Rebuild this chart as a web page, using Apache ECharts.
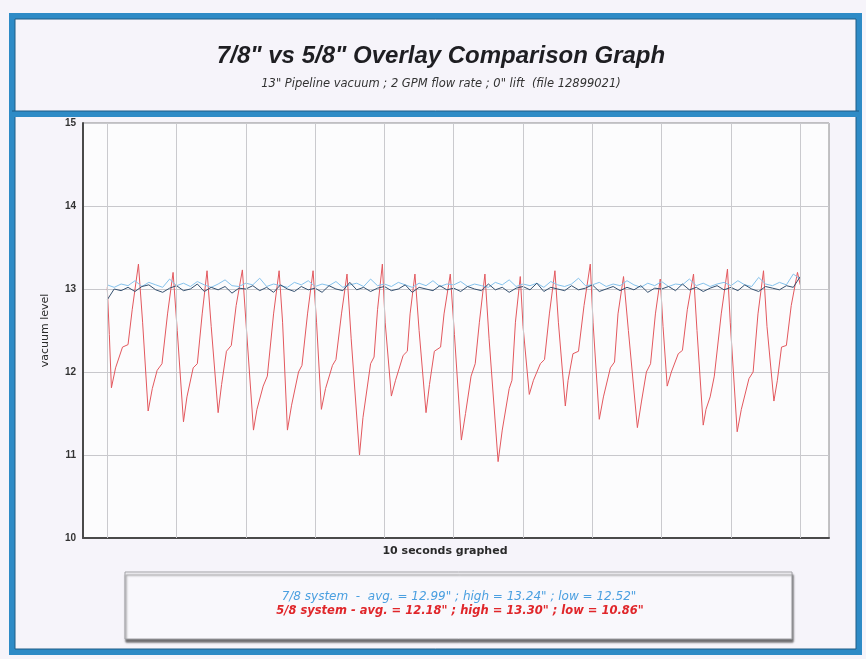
<!DOCTYPE html>
<html>
<head>
<meta charset="utf-8">
<title>7/8 vs 5/8 Overlay Comparison Graph</title>
<script src="https://cdn.jsdelivr.net/npm/echarts@6/dist/echarts.min.js"></script>
<style>
  html, body { margin: 0; padding: 0; background: #f6f4fa; }
  #chart { width: 866px; height: 659px; }
</style>
</head>
<body>
<div id="chart"></div>
<script>
// 5/8 system trace (seconds, vacuum level)
const redTime = [
  0.00, 0.03,
  0.06, 0.12, 0.22, 0.30, 0.36, 0.45, 0.51,
  0.59, 0.65, 0.72, 0.79, 0.87, 0.95, 1.01,
  1.10, 1.15, 1.24, 1.30, 1.37, 1.44, 1.50,
  1.60, 1.65, 1.72, 1.79, 1.86, 1.95, 2.01,
  2.11, 2.16, 2.25, 2.31, 2.40, 2.48, 2.53,
  2.60, 2.66, 2.76, 2.81, 2.89, 2.97, 3.02,
  3.09, 3.15, 3.25, 3.30, 3.38, 3.46, 3.52,
  3.64, 3.69, 3.80, 3.85, 3.90, 3.97, 4.01,
  4.10, 4.16, 4.27, 4.33, 4.37, 4.44, 4.50,
  4.60, 4.65, 4.72, 4.81, 4.86, 4.95, 5.01,
  5.11, 5.17, 5.25, 5.31, 5.37, 5.45, 5.51,
  5.64, 5.70, 5.80, 5.84, 5.89, 5.96, 6.00,
  6.09, 6.15, 6.25, 6.31, 6.38, 6.46, 6.51,
  6.61, 6.65, 6.72, 6.80, 6.88, 6.97, 7.01,
  7.10, 7.16, 7.26, 7.32, 7.37, 7.45, 7.52,
  7.65, 7.71, 7.78, 7.84, 7.91, 7.98, 8.02,
  8.08, 8.14, 8.24, 8.30, 8.37, 8.46, 8.51,
  8.60, 8.64, 8.70, 8.76, 8.86, 8.95, 8.99,
  9.09, 9.15, 9.26, 9.32, 9.39, 9.47, 9.52,
  9.62, 9.67, 9.73, 9.80, 9.87, 9.96, 10.00
];
const redVals = [
  13.02, 12.45,
  11.81, 12.05, 12.30, 12.33, 12.75, 13.30, 12.60,
  11.53, 11.80, 12.02, 12.10, 12.70, 13.20, 12.50,
  11.40, 11.70, 12.05, 12.10, 12.70, 13.22, 12.55,
  11.51, 11.85, 12.25, 12.32, 12.80, 13.23, 12.50,
  11.30, 11.55, 11.83, 11.95, 12.70, 13.22, 12.60,
  11.30, 11.60, 12.00, 12.08, 12.70, 13.22, 12.60,
  11.55, 11.80, 12.08, 12.15, 12.70, 13.18, 12.40,
  11.00, 11.45, 12.10, 12.18, 12.75, 13.30, 12.60,
  11.71, 11.90, 12.20, 12.25, 12.70, 13.18, 12.50,
  11.51, 11.85, 12.25, 12.30, 12.70, 13.18, 12.45,
  11.18, 11.50, 11.95, 12.10, 12.60, 13.18, 12.40,
  10.92, 11.30, 11.80, 11.90, 12.60, 13.15, 12.55,
  11.73, 11.90, 12.10, 12.15, 12.70, 13.22, 12.60,
  11.59, 11.90, 12.22, 12.25, 12.80, 13.30, 12.60,
  11.43, 11.70, 12.05, 12.12, 12.70, 13.15, 12.50,
  11.33, 11.65, 12.00, 12.10, 12.70, 13.12, 12.55,
  11.83, 12.00, 12.22, 12.26, 12.75, 13.18, 12.50,
  11.36, 11.55, 11.70, 11.95, 12.70, 13.24, 12.60,
  11.28, 11.55, 11.92, 12.00, 12.70, 13.22, 12.55,
  11.65, 11.90, 12.30, 12.32, 12.80, 13.20, 13.05
];

// 7/8 system traces, one reading every sampleStep seconds
const sampleStep = 0.1;
const blueLight = [
  13.05, 13.02, 13.06, 13.04, 13.10, 13.03, 13.08, 13.05, 13.02, 13.12,
  13.04, 13.07, 13.03, 13.09, 13.05, 13.02, 13.06, 13.11, 13.04, 13.03,
  13.07, 13.05, 13.13, 13.03, 13.06, 13.04, 13.02, 13.08, 13.05, 13.10,
  13.03, 13.06, 13.04, 13.09, 13.02, 13.05, 13.07, 13.03, 13.12, 13.04,
  13.06, 13.03, 13.08, 13.05, 13.02, 13.07, 13.04, 13.10, 13.03, 13.06,
  13.05, 13.09, 13.03, 13.06, 13.04, 13.02, 13.08, 13.05, 13.11, 13.03,
  13.06, 13.04, 13.07, 13.02, 13.09, 13.05, 13.03, 13.06, 13.13, 13.04,
  13.05, 13.08, 13.03, 13.06, 13.04, 13.10, 13.05, 13.02, 13.07, 13.04,
  13.09, 13.03, 13.06, 13.05, 13.12, 13.04, 13.07, 13.03, 13.06, 13.08,
  13.04, 13.10, 13.05, 13.03, 13.14, 13.06, 13.04, 13.08, 13.05, 13.18, 13.12
];
const blueDark = [
  12.87, 13.00, 12.98, 13.02, 12.97, 13.03, 13.05, 12.99, 12.96, 13.01,
  13.04, 12.98, 13.00, 13.06, 12.97, 13.02, 12.99, 13.03, 12.95, 13.01,
  13.00, 13.04, 12.98, 13.02, 12.96, 13.05, 13.00, 12.97, 13.03, 12.99,
  13.01, 12.96, 13.04, 13.00, 12.98, 13.08, 12.99, 13.02, 12.97, 13.01,
  13.03, 12.98, 13.00, 13.05, 12.96, 13.02, 13.00, 12.98, 13.04, 12.99,
  13.01, 12.97, 13.03, 13.00, 12.98, 13.06, 12.99, 13.02, 12.96, 13.01,
  13.03, 12.99, 13.07, 12.97, 13.02, 13.00, 12.98, 13.04, 12.99, 13.01,
  13.05, 12.97, 13.00, 13.03, 12.98, 13.02, 12.99, 13.04, 12.96, 13.01,
  13.00, 13.03, 12.98, 13.06, 12.99, 13.02, 12.97, 13.01, 13.04, 12.99,
  13.02, 12.98, 13.05, 13.00, 12.97, 13.03, 13.01, 12.99, 13.04, 13.02, 13.15
];

// one vertical grid line per second
const secondLines = [0, 1, 2, 3, 4, 5, 6, 7, 8, 9, 10];
const yMin = 10, yMax = 15, yStep = 1;

const titleText = '7/8" vs 5/8" Overlay Comparison Graph';
const subText = '13" Pipeline vacuum ; 2 GPM flow rate ; 0" lift  (file 12899021)';
const legend78 = '7/8 system  -  avg. = 12.99" ; high = 13.24" ; low = 12.52"';
const legend58 = '5/8 system - avg. = 12.18" ; high = 13.30" ; low = 10.86"';

const FONT = '"Liberation Sans", Arial, sans-serif';
const WIDE = '"DejaVu Sans", Verdana, sans-serif';
const chart = echarts.init(document.getElementById('chart'));

chart.setOption({
  backgroundColor: '#f6f4fa',
  animation: false,
  title: [
    {
      text: titleText,
      left: 436, top: 39, textAlign: 'center',
      textStyle: { fontFamily: FONT, fontSize: 24, fontWeight: 'bold', fontStyle: 'italic', color: '#1e1e22' }
    },
    {
      text: subText,
      left: 436, top: 73, textAlign: 'center',
      textStyle: { fontFamily: WIDE, fontSize: 11.5, fontWeight: 'normal', fontStyle: 'italic', color: '#333' }
    }
  ],
  graphic: [
    // outer frame and divider
    { type: 'rect', z: 0, shape: { x: 12, y: 16, width: 847, height: 636 },
      style: { fill: 'none', stroke: '#2e8bc6', lineWidth: 6 } },
    { type: 'rect', z: 0, shape: { x: 15, y: 19, width: 841, height: 630 },
      style: { fill: 'none', stroke: '#1f5c86', lineWidth: 1 } },
    { type: 'line', z: 0, shape: { x1: 12, y1: 114, x2: 859, y2: 114 },
      style: { stroke: '#2e8bc6', lineWidth: 6 } },
    { type: 'line', z: 0, shape: { x1: 12, y1: 111, x2: 859, y2: 111 },
      style: { stroke: '#1f5c86', lineWidth: 1 } },
    // legend box
    { type: 'rect', z: 0, shape: { x: 125, y: 572, width: 667, height: 67 },
      style: { fill: '#f9f8fc', stroke: '#a0a0a4', lineWidth: 1,
               shadowColor: 'rgba(0,0,0,0.55)', shadowOffsetX: 1, shadowOffsetY: 3, shadowBlur: 2 } },
    { type: 'text', z: 1, style: {
        text: legend78, x: 459, y: 597, align: 'center', verticalAlign: 'middle',
        font: 'italic 12px ' + WIDE, fill: '#4a9fe0' } },
    { type: 'text', z: 1, style: {
        text: legend58, x: 460, y: 611, align: 'center', verticalAlign: 'middle',
        font: 'italic bold 11.5px ' + WIDE, fill: '#e0262a' } },
    // x axis caption
    { type: 'text', z: 1, style: {
        text: '10 seconds graphed', x: 445, y: 551, align: 'center', verticalAlign: 'middle',
        font: 'bold 11px ' + WIDE, fill: '#2a2a2a' } }
  ],
  grid: {
    left: 83, right: 37, top: 123, bottom: 121,
    show: true, backgroundColor: '#fcfcfd', borderColor: '#8a8a8a', borderWidth: 1
  },
  xAxis: {
    type: 'value', min: -0.35, max: 10.415,
    axisLine: { show: true, onZero: false, lineStyle: { color: '#4a4a4a', width: 2 } },
    axisTick: { show: false }, axisLabel: { show: false }, splitLine: { show: false }
  },
  yAxis: {
    type: 'value', min: yMin, max: yMax, interval: yStep,
    name: 'vacuum level', nameLocation: 'middle', nameGap: 32, nameRotate: 90,
    nameTextStyle: { fontFamily: WIDE, fontSize: 11, fontWeight: 'normal', color: '#2a2a2a' },
    axisLine: { show: true, onZero: false, lineStyle: { color: '#4a4a4a', width: 2 } },
    axisTick: { show: false },
    axisLabel: { margin: 7, fontFamily: FONT, fontSize: 10, fontWeight: 'bold', color: '#333' },
    splitLine: { show: true, lineStyle: { color: '#c8c8cc', width: 1 } }
  },
  series: [
    {
      name: 'seconds', type: 'line', data: [], z: 1, silent: true,
      markLine: {
        silent: true, symbol: 'none', label: { show: false },
        lineStyle: { color: '#cacace', width: 1, type: 'solid' },
        data: secondLines.map(s => ({ xAxis: s }))
      }
    },
    {
      name: '5/8 system', type: 'line', z: 2, showSymbol: false,
      data: redTime.map((t, i) => [t, redVals[i]]),
      lineStyle: { color: '#e3585e', width: 1 }
    },
    {
      name: '7/8 system', type: 'line', z: 3, showSymbol: false,
      data: blueLight.map((v, i) => [i * sampleStep, v]),
      lineStyle: { color: '#85c2ec', width: 1 }
    },
    {
      name: '7/8 system (trace 2)', type: 'line', z: 4, showSymbol: false,
      data: blueDark.map((v, i) => [i * sampleStep, v]),
      lineStyle: { color: '#34506f', width: 1 }
    }
  ]
});
</script>
</body>
</html>
